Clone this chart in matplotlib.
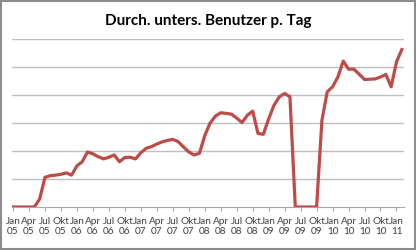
import matplotlib
matplotlib.use('Agg')
import matplotlib.pyplot as plt
from matplotlib.patches import Rectangle
import numpy as np

plt.rcParams['font.family'] = ['Lato', 'DejaVu Sans']

title = 'Durch. unters. Benutzer p. Tag'

# monthly values Jan 05 .. Feb 11 (no y scale shown, units = gridlines)
months = ['Jan', 'Feb', 'Mrz', 'Apr', 'Mai', 'Jun', 'Jul', 'Aug', 'Sep', 'Okt', 'Nov', 'Dez']
years = ['05', '06', '07', '08', '09', '10', '11']
values = [0, 0, 0, 0, 0, 0.28, 1.06, 1.12, 1.14, 1.17, 1.22, 1.14,
          1.47, 1.62, 1.97, 1.9, 1.8, 1.72, 1.78, 1.86, 1.62, 1.77, 1.78, 1.72,
          1.94, 2.1, 2.16, 2.25, 2.33, 2.38, 2.42, 2.34, 2.15, 1.97, 1.86, 1.92,
          2.55, 3.0, 3.25, 3.37, 3.35, 3.32, 3.18, 3.02, 3.28, 3.43, 2.63, 2.6,
          3.15, 3.64, 3.94, 4.06, 3.94, 0, 0, 0, 0, 0, 3.1, 4.12,
          4.3, 4.65, 5.22, 4.93, 4.93, 4.75, 4.56, 4.57, 4.58, 4.65, 4.74, 4.3,
          5.19, 5.63]

labels = [f'{months[i % 12]}\n{years[i // 12]}' for i in range(len(values))]
x = np.arange(len(values))

fig = plt.figure(figsize=(4.16, 2.5), dpi=100)
ax = fig.add_axes([0.028, 0.172, 0.943, 0.671])

ax.plot(x, values, color='#BE4B48', lw=2.3, solid_joinstyle='round', zorder=3)

ax.set_xlim(-0.25, 73.4)
ax.set_ylim(0, 6)
ax.set_yticks(np.arange(1, 7))
ax.yaxis.grid(True, color='#BFBFBF', lw=1)
ax.tick_params(axis='y', left=False, labelleft=False)

ticks = x[::3]
ax.set_xticks(ticks)
ax.set_xticklabels([labels[i] for i in ticks], fontsize=7.2, color='#404040', linespacing=1.15)
ax.tick_params(axis='x', length=3, color='#A6A6A6', pad=4)

for s in ['top', 'right', 'left']:
    ax.spines[s].set_visible(False)
ax.spines['bottom'].set_color('#A6A6A6')

fig.text(0.5, 0.918, title, ha='center', va='center', fontsize=11, fontweight='bold')

fig.patches.append(Rectangle((0.002, 0.003), 0.996, 0.994, transform=fig.transFigure,
                             fill=False, edgecolor='#8C8C8C', lw=1.5))

fig.savefig('out.png', dpi=100)
